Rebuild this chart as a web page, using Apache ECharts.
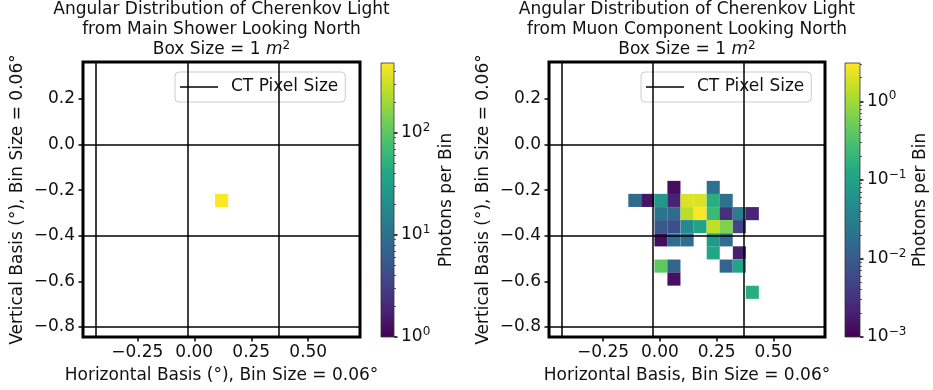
<!DOCTYPE html>
<html>
<head>
<meta charset="utf-8">
<script src="https://cdn.jsdelivr.net/npm/echarts@6/dist/echarts.min.js"></script>
<style>html,body{margin:0;padding:0;background:#fff}#c{width:933px;height:390px}</style>
</head>
<body>
<div id="c"></div>
<script>
// ---------------- data ----------------
const binSize = 0.0575;
// Main shower (left panel)
const showerX = [0.120];
const showerY = [-0.245];
const showerPhotons = [470];
// Muon component (right panel)
const muonX = [0.062, 0.235,
  -0.110, -0.053, 0.005, 0.062, 0.120, 0.177, 0.235, 0.292,
  0.005, 0.062, 0.120, 0.177, 0.235, 0.292, 0.350, 0.407,
  0.005, 0.062, 0.120, 0.177, 0.235, 0.292, 0.350,
  0.005, 0.062, 0.120, 0.235, 0.292,
  0.235, 0.350,
  0.005, 0.062, 0.292, 0.350,
  0.062,
  0.407];
const muonY = [-0.188, -0.188,
  -0.245, -0.245, -0.245, -0.245, -0.245, -0.245, -0.245, -0.245,
  -0.303, -0.303, -0.303, -0.303, -0.303, -0.303, -0.303, -0.303,
  -0.360, -0.360, -0.360, -0.360, -0.360, -0.360, -0.360,
  -0.418, -0.418, -0.418, -0.418, -0.418,
  -0.475, -0.475,
  -0.533, -0.533, -0.533, -0.533,
  -0.590,
  -0.648];
const muonPhotons = [0.0013, 0.02,
  0.016, 0.0016, 0.07, 0.0022, 2.0, 2.0, 0.15, 0.02,
  0.022, 0.016, 1.3, 3.0, 0.22, 0.003, 0.03, 0.0023,
  0.009, 0.007, 0.045, 0.1, 1.45, 0.65, 0.005,
  0.0013, 0.018, 0.018, 0.08, 0.018,
  0.12, 0.002,
  0.4, 0.014, 0.013, 0.1,
  0.0014,
  0.15];
// CT pixel boundaries
const ctLinesX = [-0.435, -0.033, 0.368];
const ctLinesY = [0.0, -0.4, -0.8];
// axes
const xRange = [-0.488, 0.727];
const yRange = [-0.844, 0.362];
const xTicks = [-0.25, 0.0, 0.25, 0.5];
const yTicks = [0.2, 0.0, -0.2, -0.4, -0.6, -0.8];
// colour bars (log10 limits)
const showerColorRange = [1, 485];
const muonColorRange = [0.001, 3.08];
const showerCbTicks = [0, 1, 2];
const muonCbTicks = [-3, -2, -1, 0];
const titles = [
  'Angular Distribution of Cherenkov Light\nfrom Main Shower Looking North',
  'Angular Distribution of Cherenkov Light\nfrom Muon Component Looking North'
];
const xNames = ['Horizontal Basis (°), Bin Size = 0.06°', 'Horizontal Basis, Bin Size = 0.06°'];
const yName = 'Vertical Basis (°), Bin Size = 0.06°';
const cbName = 'Photons per Bin';
const legendName = 'CT Pixel Size';

// ---------------- styling ----------------
const FONT = 'DejaVu Sans';
const FS = 17;
const TXT = '#111';
const viridis = ['#440154','#482475','#414487','#355f8d','#2a788e','#21918c','#22a884','#44bf70','#7ad151','#bddf26','#fde725'];

function cells(xs, ys, vs) {
  return xs.map((x, i) => [x, ys[i], vs[i], Math.log10(vs[i])]);
}
function minorTicks(lo, hi) {
  const out = [];
  for (let k = Math.floor(lo); k <= Math.ceil(hi); k++) {
    for (let m = 2; m <= 9; m++) {
      const v = k + Math.log10(m);
      if (v > lo && v < hi) out.push(v);
    }
  }
  return out;
}
const fmtMinus = s => s.replace('-', '\u2212');
function supFmt(v) {
  const e = Math.round(v);
  return '{b|10}{s|' + (e < 0 ? '\u2212' + (-e) : e) + '}';
}
const supRich = {
  b: {fontFamily: FONT, fontSize: FS, color: TXT, lineHeight: 22},
  s: {fontFamily: FONT, fontSize: 12, color: TXT, verticalAlign: 'top', lineHeight: 14}
};

function renderCell(params, api) {
  const x = api.value(0), y = api.value(1);
  const p0 = api.coord([x - binSize / 2, y + binSize / 2]);
  const p1 = api.coord([x + binSize / 2, y - binSize / 2]);
  return {
    type: 'rect',
    shape: {x: p0[0], y: p0[1], width: p1[0] - p0[0], height: p1[1] - p0[1]},
    style: {fill: api.visual('color')}
  };
}
function cbRender(lo, hi) {
  return function (params, api) {
    const p0 = api.coord([0, hi]);
    const p1 = api.coord([1, lo]);
    return {
      type: 'rect',
      shape: {x: p0[0], y: p0[1], width: p1[0] - p0[0], height: p1[1] - p0[1]},
      style: {
        fill: new echarts.graphic.LinearGradient(0, 1, 0, 0,
          viridis.map((c, i) => ({offset: i / (viridis.length - 1), color: c}))),
        stroke: '#333', lineWidth: 0.8
      }
    };
  };
}

const sLo = Math.log10(showerColorRange[0]), sHi = Math.log10(showerColorRange[1]);
const mLo = Math.log10(muonColorRange[0]), mHi = Math.log10(muonColorRange[1]);

function mainX(gi, name) {
  return {
    type: 'value', gridIndex: gi, min: xRange[0], max: xRange[1],
    axisLine: {show: false, onZero: false},
    splitLine: {show: false},
    axisTick: {show: true, customValues: xTicks, length: 4.5, lineStyle: {color: '#000', width: 1.5}},
    axisLabel: {customValues: xTicks, formatter: v => fmtMinus(v.toFixed(2)), fontFamily: FONT, fontSize: FS, color: TXT, margin: 7},
    name: name, nameLocation: 'middle', nameGap: 30,
    nameTextStyle: {fontFamily: FONT, fontSize: FS, color: TXT}
  };
}
function mainY(gi) {
  return {
    type: 'value', gridIndex: gi, min: yRange[0], max: yRange[1],
    axisLine: {show: false, onZero: false},
    splitLine: {show: false},
    axisTick: {show: true, customValues: yTicks, length: 4.5, lineStyle: {color: '#000', width: 1.5}},
    axisLabel: {customValues: yTicks, formatter: v => fmtMinus(v.toFixed(1)), fontFamily: FONT, fontSize: FS, color: TXT, margin: 8},
    name: yName, nameLocation: 'middle', nameGap: 57, nameRotate: 90,
    nameTextStyle: {fontFamily: FONT, fontSize: FS, color: TXT}
  };
}
function cbMajor(gi, lo, hi, ticks, gap) {
  return {
    type: 'value', gridIndex: gi, position: 'right', min: lo, max: hi,
    axisLine: {show: false, onZero: false}, splitLine: {show: false},
    axisTick: {show: true, customValues: ticks, length: 3.5, lineStyle: {color: '#000', width: 1.5}},
    axisLabel: {customValues: ticks, formatter: supFmt, rich: supRich, margin: 7},
    name: cbName, nameLocation: 'middle', nameRotate: 90, nameGap: gap,
    nameTextStyle: {fontFamily: FONT, fontSize: FS, color: TXT}
  };
}
function cbMinor(gi, lo, hi) {
  return {
    type: 'value', gridIndex: gi, position: 'right', min: lo, max: hi,
    axisLine: {show: false, onZero: false}, splitLine: {show: false},
    axisTick: {show: true, customValues: minorTicks(lo, hi), length: 2, lineStyle: {color: '#333', width: 0.8}},
    axisLabel: {show: false}
  };
}
function ctSeries(xi, yi) {
  return {
    type: 'line', name: legendName, xAxisIndex: xi, yAxisIndex: yi, data: [],
    symbol: 'none', lineStyle: {color: '#000', width: 1.5}, itemStyle: {color: '#000'},
    z: 5,
    markLine: {
      silent: true, symbol: ['none', 'none'], label: {show: false},
      lineStyle: {color: '#000', width: 1.5, type: 'solid'},
      emphasis: {disabled: true},
      data: ctLinesX.map(v => ({xAxis: v})).concat(ctLinesY.map(v => ({yAxis: v})))
    }
  };
}
function titleOf(i, cx) {
  return {
    text: titles[i] + '\n{n|Box Size = 1 }{i|m}{s|2}',
    left: cx, top: 0, textAlign: 'center', padding: 0,
    textStyle: {
      fontFamily: FONT, fontSize: FS, fontWeight: 'normal', color: TXT, lineHeight: 20,
      rich: {
        n: {fontFamily: FONT, fontSize: FS, color: TXT, lineHeight: 20},
        i: {fontFamily: FONT, fontSize: FS, color: TXT, fontStyle: 'italic', lineHeight: 20},
        s: {fontFamily: FONT, fontSize: 12, color: TXT, verticalAlign: 'top', lineHeight: 12}
      }
    }
  };
}
function legendOf(left) {
  return {
    data: [{name: legendName, icon: 'rect'}], left: left, top: 72, orient: 'horizontal',
    itemWidth: 38, itemHeight: 1.6,
    padding: [5, 7, 5, 5],
    backgroundColor: 'rgba(255,255,255,0.8)', borderColor: '#cccccc', borderWidth: 1, borderRadius: 4,
    textStyle: {fontFamily: FONT, fontSize: FS, color: TXT, padding: [0, 0, 0, 8], lineHeight: 20},
    selectedMode: false
  };
}

const chart = echarts.init(document.getElementById('c'), null, {renderer: 'canvas'});
chart.setOption({
  animation: false,
  backgroundColor: '#fff',
  title: [titleOf(0, 221.5), titleOf(1, 687)],
  legend: [legendOf(175), legendOf(641)],
  grid: [
    {left: 83, top: 62, width: 277, height: 275, show: true, borderColor: '#000', borderWidth: 3, backgroundColor: 'transparent', z: 3},
    {left: 381, top: 63, width: 13, height: 274},
    {left: 549, top: 62, width: 276, height: 275, show: true, borderColor: '#000', borderWidth: 3, backgroundColor: 'transparent', z: 3},
    {left: 845, top: 63, width: 15, height: 274}
  ],
  xAxis: [
    mainX(0, xNames[0]),
    {type: 'value', gridIndex: 1, min: 0, max: 1, show: false},
    mainX(2, xNames[1]),
    {type: 'value', gridIndex: 3, min: 0, max: 1, show: false}
  ],
  yAxis: [
    mainY(0),
    cbMajor(1, sLo, sHi, showerCbTicks, 44),
    cbMinor(1, sLo, sHi),
    mainY(2),
    cbMajor(3, mLo, mHi, muonCbTicks, 52),
    cbMinor(3, mLo, mHi)
  ],
  visualMap: [
    {type: 'continuous', show: false, seriesIndex: 0, dimension: 3, min: sLo, max: sHi, inRange: {color: viridis}},
    {type: 'continuous', show: false, seriesIndex: 3, dimension: 3, min: mLo, max: mHi, inRange: {color: viridis}}
  ],
  series: [
    {type: 'custom', xAxisIndex: 0, yAxisIndex: 0, renderItem: renderCell, encode: {x: 0, y: 1}, data: cells(showerX, showerY, showerPhotons), z: 2},
    ctSeries(0, 0),
    {type: 'custom', xAxisIndex: 1, yAxisIndex: 1, renderItem: cbRender(sLo, sHi), data: [[0.5, sLo]], silent: true},
    {type: 'custom', xAxisIndex: 2, yAxisIndex: 3, renderItem: renderCell, encode: {x: 0, y: 1}, data: cells(muonX, muonY, muonPhotons), z: 2},
    ctSeries(2, 3),
    {type: 'custom', xAxisIndex: 3, yAxisIndex: 4, renderItem: cbRender(mLo, mHi), data: [[0.5, mLo]], silent: true}
  ]
});
</script>
</body>
</html>
